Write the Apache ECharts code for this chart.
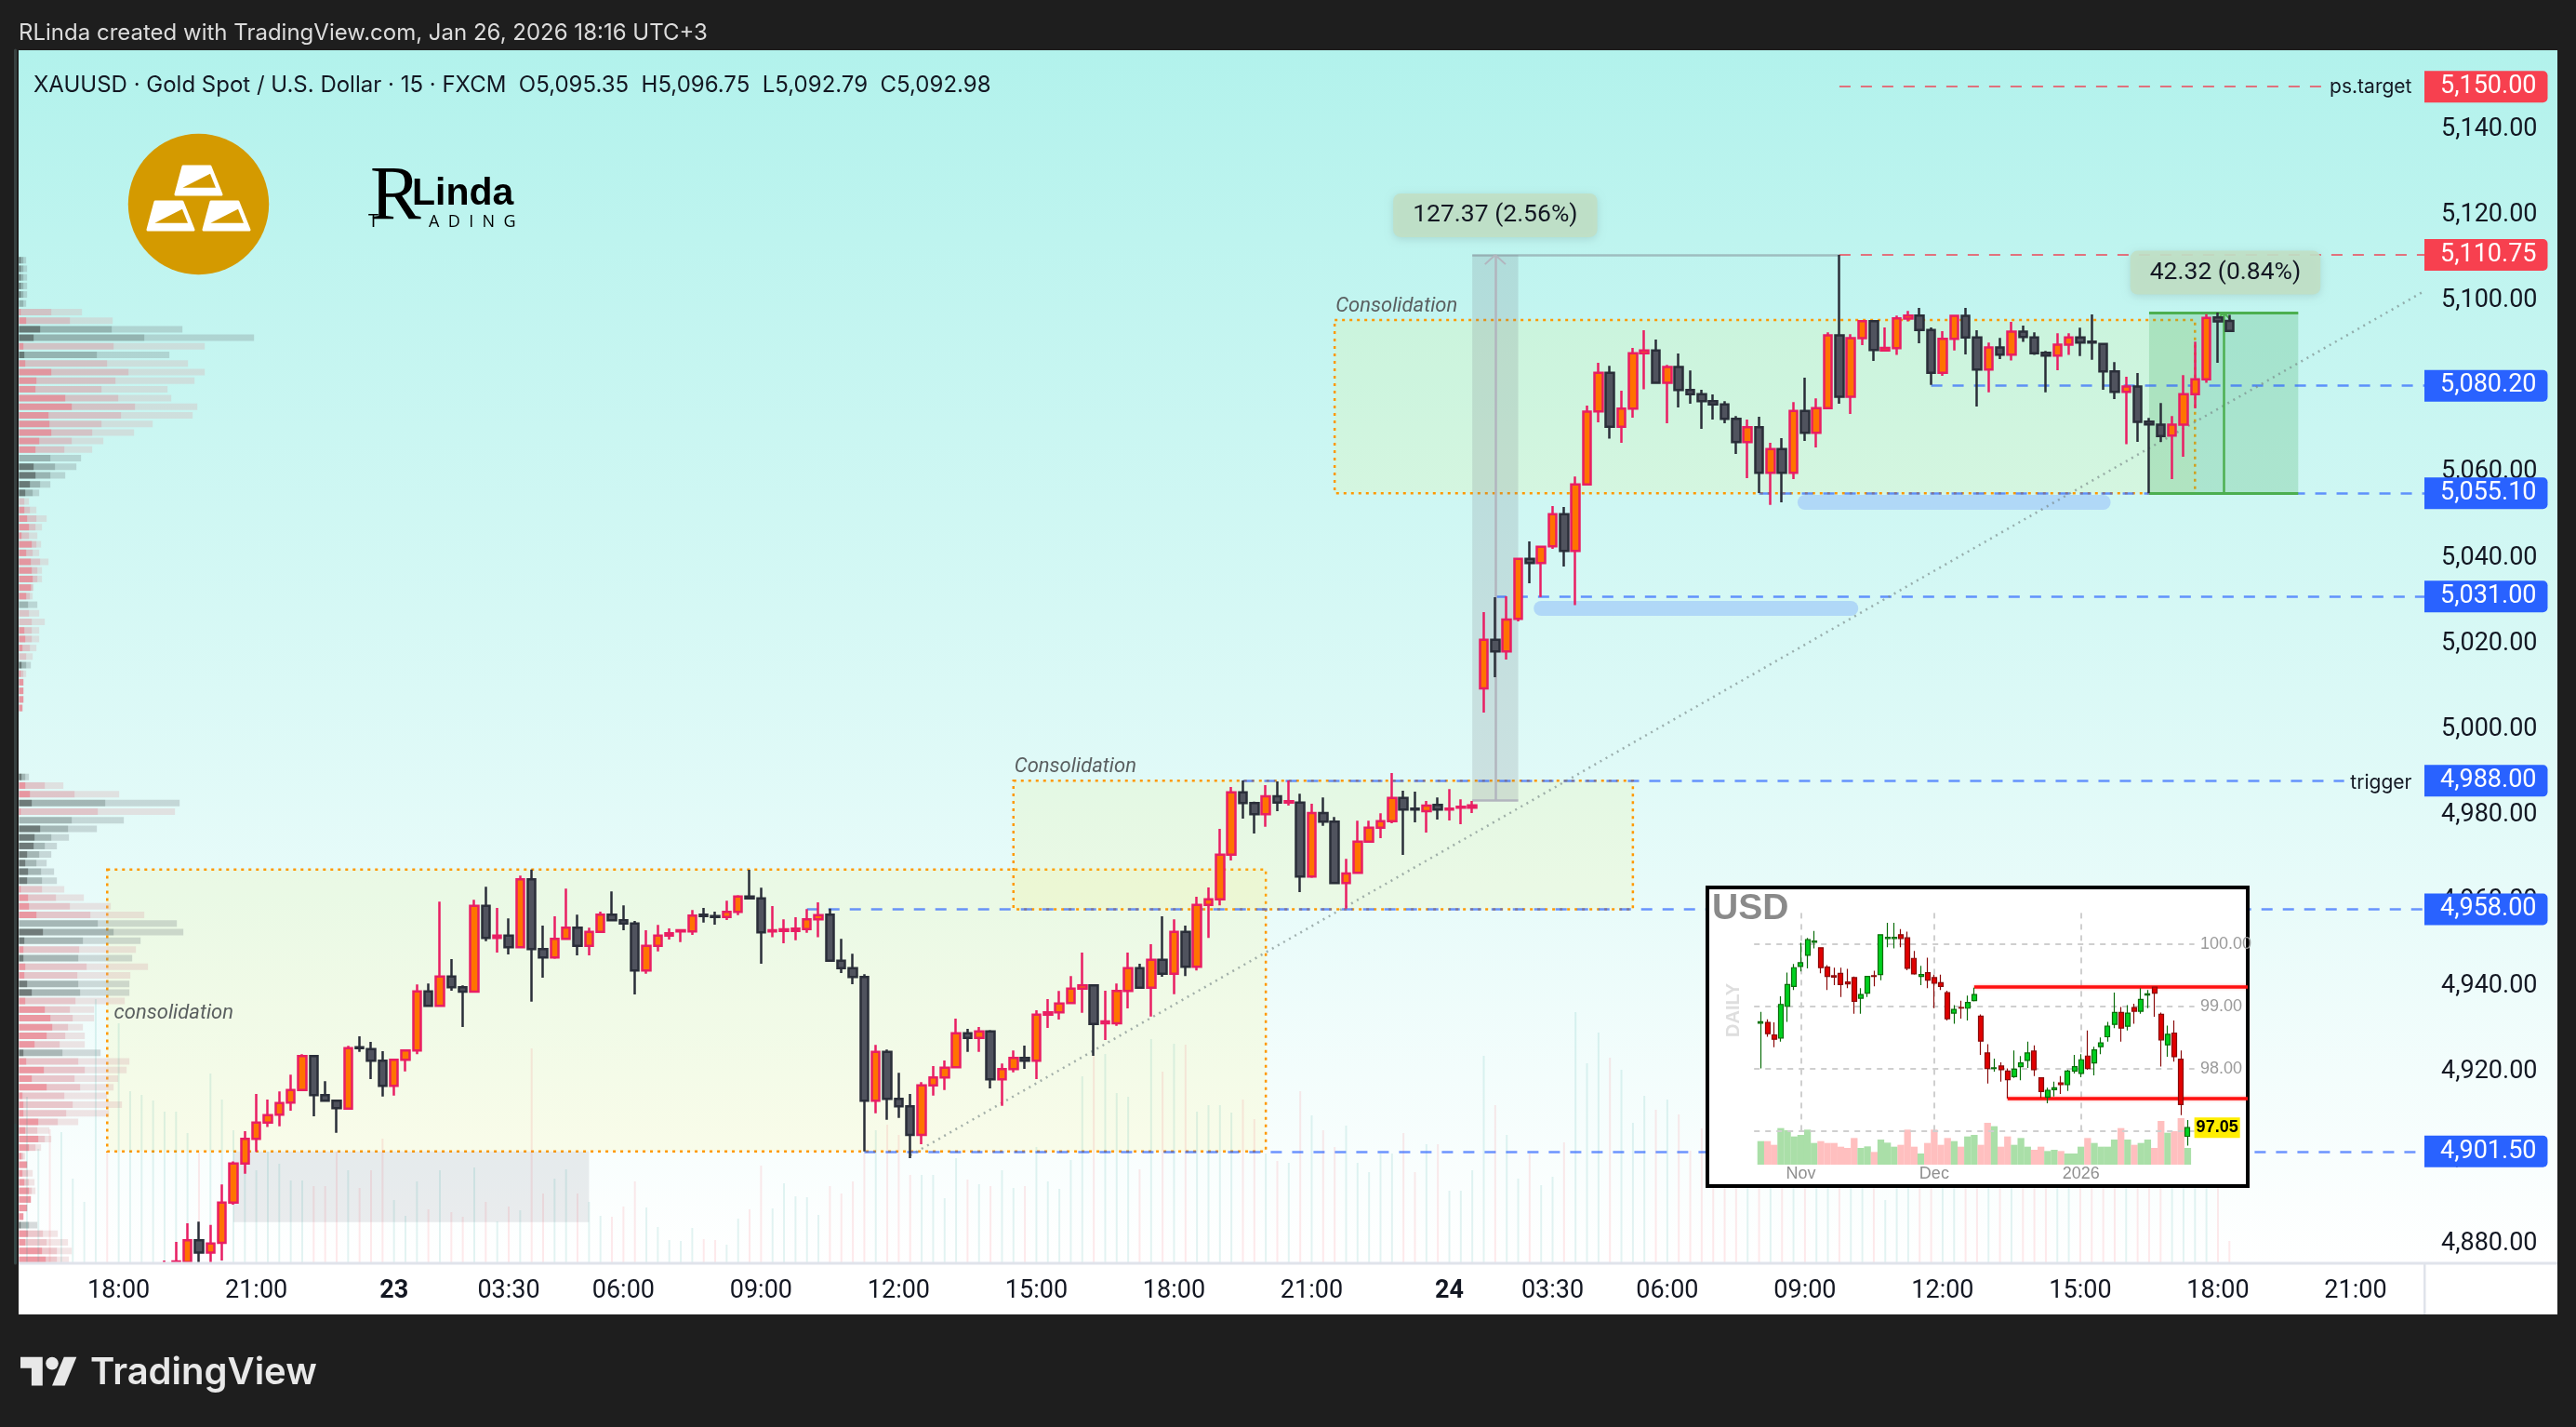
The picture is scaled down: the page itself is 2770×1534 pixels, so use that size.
<!DOCTYPE html>
<html><head><meta charset="utf-8">
<style>html,body{margin:0;padding:0;background:#1e1e1e}#c{width:2770px;height:1534px}</style>
<script src="https://cdn.jsdelivr.net/npm/echarts@6/dist/echarts.min.js"></script>
</head><body><div id="c"></div>
<script>
// ---------- DATA ----------
const firstCandleIndex = 13;
const totalBars = 211;
// [open, close, low, high]
const xauCandles = [
[4872,4874,4870,4876.05],[4872,4875.84,4870,4880.4],[4875.69,4880.76,4874.5,4884.74],[4880.76,4877.87,4874,4885.1],[4877.87,4880.04,4874,4884.38],
[4880.18,4889.59,4876.06,4893.79],[4889.59,4898.7,4889.08,4899.2],[4898.7,4904.43,4896.32,4906.23],[4904.43,4908.26,4901.39,4914.92],[4908.26,4910,4907.18,4913.62],
[4910.07,4912.82,4907.39,4915.5],[4912.89,4915.86,4911.01,4919.4],[4915.86,4923.75,4915.64,4924.18],[4923.75,4914.63,4909.71,4923.96],[4914.63,4913.33,4913.18,4917.88],
[4913.33,4911.59,4905.87,4913.33],[4911.52,4925.63,4911.52,4926.14],[4925.85,4925.63,4924.76,4928.38],[4925.41,4922.66,4918.39,4927.08],[4922.66,4916.8,4914.34,4924.9],
[4916.8,4922.88,4914.56,4922.95],[4922.88,4925.05,4920.2,4925.27],[4925.05,4938.87,4924.18,4940.46],[4938.87,4935.47,4935.4,4940.68],[4935.47,4942.35,4935.4,4959.79],
[4942.35,4939.81,4939.02,4946.4],[4939.81,4938.8,4930.55,4940.25],[4938.8,4958.85,4938.8,4960.22],[4958.85,4951.32,4950.6,4963.26],[4951.32,4951.9,4947.92,4958.34],
[4951.9,4949.15,4947.48,4955.88],[4949.15,4965,4949.15,4965.87],[4965,4948.72,4936.48,4967.31],[4948.72,4946.76,4942.06,4954.21],[4946.76,4951.1,4946.47,4956.39],
[4951.1,4953.71,4951.1,4962.83],[4953.71,4949.51,4947.27,4956.75],[4949.51,4952.77,4947.27,4953.71],[4952.77,4956.75,4952.55,4957.47],[4956.75,4955.45,4955.3,4962.18],
[4955.45,4954.72,4953.13,4958.92],[4954.72,4943.72,4938.15,4955.3],[4943.72,4949.51,4943,4953.13],[4949.51,4951.9,4948.21,4954.36],[4951.9,4952.41,4950.96,4953.56],
[4952.84,4953.13,4950.38,4953.42],[4952.84,4956.53,4952.04,4957.83],[4956.75,4956.46,4954.94,4958.34],[4956.46,4956.24,4954.43,4957.47],[4956.24,4957.4,4955.52,4960],
[4957.4,4961.02,4956.68,4961.31],[4961.02,4960.58,4960.37,4967.24],[4960.58,4952.62,4945.31,4963.04],[4952.84,4953.13,4951.47,4958.77],[4952.98,4953.35,4950.09,4955.66],
[4952.98,4953.49,4950.81,4956.17],[4953.42,4955.66,4952.55,4958.05],[4955.66,4956.68,4951.47,4959.64],[4956.75,4946.03,4946.03,4958.19],[4946.03,4944.3,4943.14,4951.1],
[4944.3,4942.2,4940.53,4947.63],[4942.2,4913.32,4901.53,4942.85],[4913.32,4924.76,4910.43,4926.35],[4924.76,4913.76,4908.91,4925.27],[4913.76,4912.02,4909.34,4919.84],
[4912.02,4905.36,4899.93,4914.92],[4905.36,4916.94,4903.19,4917.67],[4916.94,4918.75,4914.55,4921.43],[4918.75,4921.07,4915.86,4922.73],[4921.14,4929.1,4921.07,4932.5],
[4929.1,4928.01,4924.76,4930.11],[4928.01,4929.53,4924.76,4930.55],[4929.53,4918.31,4916.22,4929.82],[4918.31,4920.7,4912.17,4922],[4920.7,4923.31,4919.98,4925.05],
[4923.31,4922.66,4920.78,4926.21],[4922.66,4933.44,4918.39,4934.46],[4933.44,4933.95,4930.33,4937.06],[4933.95,4936.05,4932.29,4938.94],[4936.12,4939.52,4936.05,4942.42],
[4939.52,4940.25,4933.88,4947.92],[4940.25,4931.27,4923.82,4940.46],[4931.42,4931.85,4927.5,4939.01],[4931.42,4938.94,4930.84,4940.68],[4938.94,4944.3,4934.89,4947.92],
[4944.3,4939.74,4939.52,4945.31],[4939.74,4946.25,4933.01,4949.87],[4946.25,4942.99,4942.27,4956.38],[4942.99,4952.77,4938.22,4955.66],[4952.77,4944.59,4942.42,4954.21],
[4944.59,4959.06,4943.72,4960.94],[4959.06,4960.36,4951.32,4963.11],[4960.36,4970.78,4958.92,4976.79],[4970.78,4985.33,4969.41,4986.56],[4985.33,4982.8,4979.18,4988.08],
[4982.8,4980.19,4975.71,4983.16],[4980.19,4984.39,4977.3,4987],[4984.39,4982.94,4980.92,4987.86],[4982.94,4983.23,4982.22,4988.08],[4982.94,4965.65,4962.03,4984.97],
[4965.65,4980.48,4965.36,4982.65],[4980.48,4978.46,4977.51,4984.1],[4978.46,4964.13,4964.13,4979.54],[4964.13,4966.37,4958.19,4969.77],[4966.51,4973.82,4966.51,4978.67],
[4973.82,4977.08,4973.53,4978.67],[4977.08,4978.6,4974.62,4980.41],[4978.6,4984.03,4978.09,4989.82],[4984.03,4981.28,4970.71,4985.69],[4981.49,4981.28,4978.31,4985.47],
[4980.92,4982.22,4975.92,4983.3],[4982.36,4981.28,4978.96,4984.1],[4981.28,4981.49,4978.75,4986.05],[4981.71,4981.93,4977.88,4983.67],[4981.71,4982.29,4980.48,4983.3],
[5009.58,5020.94,5003.93,5027.38],[5020.94,5018.19,5012.18,5030.85],[5018.19,5025.64,5016.31,5031.07],[5025.79,5039.83,5025.21,5040],[5039.83,5038.82,5034.11,5043.88],
[5038.82,5042.65,5030.93,5042.65],[5042.72,5050.25,5042.14,5052.13],[5050.25,5041.64,5038.02,5051.91],[5041.64,5057.2,5028.98,5059.01],[5057.2,5074.15,5056.98,5075.58],
[5074.21,5083.25,5071.67,5085.57],[5083.25,5070.66,5067.84,5084.85],[5070.66,5074.86,5066.9,5079.06],[5074.86,5087.81,5072.76,5089.04],[5087.81,5088.46,5079.35,5093.17],
[5088.46,5080.87,5080.65,5091],[5080.87,5084.56,5071.46,5085.06],[5084.56,5079.2,5075.15,5087.74],[5079.2,5078.26,5076.02,5083.76],[5078.26,5076.6,5070.15,5079.27],
[5076.6,5075.87,5072.33,5078.19],[5075.87,5072.47,5071.46,5076.6],[5072.47,5067.04,5064.29,5073.12],[5067.04,5070.52,5058.65,5072.33],[5070.52,5059.88,5055.18,5072.98],
[5059.88,5065.45,5052.42,5066.9],[5065.45,5059.88,5053,5067.98],[5059.88,5074.35,5058.43,5076.38],[5074.35,5069.21,5067.33,5082.09],[5069.21,5075,5065.81,5077.25],
[5075,5091.94,5074.79,5092.66],[5091.94,5077.61,5076.02,5110.75],[5077.61,5091.29,5073.63,5092.23],[5091.29,5095.27,5089.69,5095.48],[5095.27,5088.54,5086,5095.48],
[5088.46,5089.04,5088.46,5093.82],[5088.97,5095.92,5087.38,5096.57],[5095.85,5096.57,5095.2,5097.65],[5096.57,5093.24,5090.13,5098.38],[5093.24,5083.25,5080.43,5093.82],
[5083.25,5091.14,5082.53,5092.95],[5091.14,5096.5,5088.46,5096.57],[5096.5,5091.5,5087.52,5098.38],[5091.5,5083.98,5075.36,5093.17],[5083.98,5089.12,5078.69,5090.27],
[5089.12,5087.45,5086.44,5091.36],[5087.45,5092.81,5086.08,5095.12],[5092.81,5091.58,5090.42,5094.25],[5091.5,5087.81,5087.38,5092.66],[5087.89,5087.23,5078.69,5088.32],
[5087.23,5089.77,5083.83,5092.44],[5089.77,5091.5,5087.38,5092.44],[5091.5,5090.27,5087.16,5093.75],[5090.49,5090.27,5086.29,5096.86],[5089.98,5083.54,5079.27,5090.06],
[5083.54,5078.77,5077.1,5085.71],[5078.77,5080,5066.54,5082.31],[5080,5071.75,5067.12,5083.18],[5071.82,5071.17,5055.18,5072.69],[5071.1,5068.49,5067.12,5076.16],
[5068.56,5071.1,5058.43,5073.12],[5071.1,5078.26,5063.64,5082.67],[5078.26,5081.73,5074.93,5090.49],[5081.73,5096.06,5080.87,5096.93],[5096.14,5095.2,5085.57,5097.29],
[5095.35,5092.98,5092.79,5096.75]
];
const volumes = [150,179,123,144,141,91,66,284,119,258,185,181,175,163,163,140,119,204,176,143,118,100,120,107,89,89,83,83,120,100,81,100,134,68,51,88,58,100,55,50,103,66,45,61,57,231,75,91,101,75,66,51,50,61,88,60,39,25,24,38,26,25,20,48,58,105,59,86,72,71,52,83,75,88,118,143,149,138,95,95,95,70,113,90,85,83,100,81,83,125,88,80,111,201,223,225,183,179,101,241,206,236,235,163,170,170,162,176,155,118,110,108,185,159,143,125,148,108,98,118,118,140,98,128,128,78,78,100,223,170,138,91,118,84,93,130,270,215,248,221,208,151,180,165,176,160,121,145,118,96,132,120,104,150,110,92,125,140,98,115,88,130,107,68,112,95,128,90,105,121,99,135,110,160,170,145,120,158,185,150,130,108,142,118,125,100,96,115,104,128,112,120,95,24];
const earlyVolumeUp = [1,1,1,0,1,1,1,1,0,1,1,1,1];
const timeTickIndex = [9,21,33,43,53,65,77,89,101,113,125,134,144,156,168,180,192,204];
const timeTickLabels = ['18:00','21:00','23','03:30','06:00','09:00','12:00','15:00','18:00','21:00','24','03:30','06:00','09:00','12:00','15:00','18:00','21:00'];
const priceTicks = [5140,5120,5100,5080,5060,5040,5020,5000,4980,4960,4940,4920,4900,4880];
const priceMin = 4875.4, priceMax = 5158.51;
// volume profile: [price, outer, mid, inner, kind] kind 1 = grey, 0 = pink
const profileRows = [
[5109.5,23,14,5,1],[5107.5,26,14,5,1],[5105.5,26,14,5,1],[5103.5,26,14,5,1],[5101.5,26,14,5,1],[5099.4,23,14,0,1],[5097.4,203,104,5,0],[5095.4,302,164,23,0],[5093.4,527,299,68,1],[5091.4,758,404,47,1],
[5089.4,599,305,14,0],[5087.4,485,251,17,1],[5085.4,545,284,20,0],[5083.4,599,353,104,0],[5081.4,566,311,56,0],[5079.4,479,266,53,0],[5077.3,491,320,149,0],[5075.3,575,374,170,0],[5073.3,560,329,95,0],[5071.3,431,266,98,0],
[5069.3,371,236,104,0],[5067.3,272,170,65,0],[5065.3,236,146,53,0],[5063.3,200,101,0,1],[5061.3,185,116,47,1],[5059.3,149,101,53,1],[5057.2,101,68,35,1],[5055.2,65,44,20,1],[5053.2,32,17,0,0],[5051.2,56,35,17,0],
[5049.2,89,56,26,0],[5047.2,74,53,32,0],[5045.2,59,32,8,0],[5043.2,71,56,41,0],[5041.2,65,44,23,0],[5039.1,95,68,38,0],[5037.1,74,59,41,0],[5035.1,74,59,44,0],[5033.1,47,44,38,0],[5031.1,44,35,23,0],
[5029.1,59,29,0,1],[5027.1,65,32,0,0],[5025.1,83,41,0,0],[5023.1,65,41,17,0],[5021.1,65,41,20,0],[5019,56,35,11,0],[5017,44,23,0,0],[5015,38,23,8,1],[5013,23,14,5,0],[5011,14,14,14,0],
[5009,14,14,14,0],[5007,14,14,14,0],[5005,11,11,11,0],
[4988.9,32,20,8,1],[4986.9,143,83,20,0],[4984.9,323,179,35,0],[4982.8,518,278,41,1],[4980.8,503,254,5,0],[4978.8,338,170,0,1],[4976.8,251,158,68,1],[4974.8,161,104,50,1],[4972.8,122,83,47,1],[4970.8,104,65,26,1],
[4968.8,89,56,20,1],[4966.8,113,71,29,1],[4964.7,122,74,26,1],[4962.7,146,74,5,0],[4960.7,209,119,29,0],[4958.7,296,164,32,0],[4956.7,404,230,56,0],[4954.7,509,254,0,1],[4952.7,530,305,77,1],[4950.7,392,206,17,1],
[4948.6,377,194,14,0],[4946.6,365,191,14,1],[4944.6,416,218,20,0],[4942.6,359,188,17,0],[4940.6,356,191,26,1],[4938.6,356,197,41,1],[4936.6,341,182,20,0],[4934.6,242,164,83,0],[4932.6,242,173,101,0],[4930.5,206,158,107,0],
[4928.5,212,149,89,0],[4926.5,212,131,50,0],[4924.5,263,140,14,1],[4922.5,356,191,23,0],[4920.5,347,212,80,0],[4918.5,320,179,41,0],[4916.5,305,197,89,0],[4914.5,284,146,11,0],[4912.4,332,173,14,0],[4910.4,290,152,14,0],
[4908.4,191,125,62,0],[4906.4,98,59,20,0],[4904.4,104,83,62,0],[4902.4,71,53,32,0],[4900.4,20,14,8,0],[4898.4,26,26,26,0],[4896.4,44,29,11,0],[4894.3,50,32,17,0],[4892.3,53,41,32,0],[4890.3,38,38,38,0],
[4888.3,26,26,26,0],[4886.3,14,14,14,0],[4884.3,59,32,5,1],[4882.3,125,77,29,0],[4880.3,158,89,20,0],[4878.3,170,122,74,0],[4876.2,161,122,86,0]
];
// levels
const tagLevels = [[5150,'5,150.00','#f7404f'],[5110.75,'5,110.75','#f7404f'],[5080.2,'5,080.20','#2962ff'],[5055.1,'5,055.10','#2962ff'],[5031,'5,031.00','#2962ff'],[4988,'4,988.00','#2962ff'],[4958,'4,958.00','#2962ff'],[4901.5,'4,901.50','#2962ff']];
const redDashes = [[5150,159,201],[5110.75,159,210]];
const blueDashes = [[5080.2,167,210],[5055.1,152,210],[5031,129,210],[4988,107,203],[4958,69,210],[4901.5,74,210]];
const consolidationBoxes = [[8,109,4967.3,4901.5],[87,141,4988,4958],[115,190,5095.56,5055.1]];
const annotationTexts = [['consolidation',9,4933.8,-5],['Consolidation',87,4991.3,1],['Consolidation',115,5098.8,1]];
const levelTexts = [['ps.target',208.9,5150],['trigger',208.9,4987.6]];
const bluePills = [[133,160,5028.25],[156,182,5053]];
const measureLabels = [['127.37 (2.56%)',129,5120],['42.32 (0.84%)',192.65,5106.6]];
const trendLine = [78,4900.6,210,5102.3];
const priceBand = [127,131,129,5110.75,4983.4];
const positionBox = [186,199,192.5,5097.29,5055.05];
const greyZone = [19,50,4901.5,4885];

// Inset USD daily
const usdPad = 8, usdTotal = 82;
const usdCandles = [
[98.73,98.75,98,98.91],[98.74,98.56,98.51,98.79],[98.54,98.47,98.34,98.74],[98.49,99.03,98.43,99.16],[99,99.35,98.75,99.54],[99.32,99.62,99.26,99.68],[99.64,99.7,99.56,100.02],[99.82,100.07,99.61,100.1],[100.03,100.05,99.93,100.21],[99.94,99.62,99.53,99.95],
[99.63,99.48,99.26,99.66],[99.49,99.47,99.34,99.62],[99.53,99.35,99.15,99.62],[99.39,99.36,99.29,99.6],[99.46,99.08,98.88,99.48],[99.13,99.19,98.88,99.29],[99.21,99.48,99.15,99.49],[99.49,99.48,99.32,99.57],[99.51,100.15,99.42,100.16],[100.09,100.11,99.95,100.34],
[100.09,100.11,99.93,100.34],[100.15,100.09,99.95,100.24],[100.1,99.61,99.58,100.2],[99.77,99.52,99.51,99.89],[99.48,99.51,99.34,99.65],[99.54,99.42,99.29,99.78],[99.46,99.37,98.97,99.51],[99.38,99.32,99.26,99.51],[99.22,98.8,98.77,99.25],[98.89,98.95,98.72,99.02],
[98.98,98.97,98.8,99.09],[98.97,99.06,98.77,99.17],[99.09,99.19,99.08,99.3],[98.84,98.44,98.22,98.87],[98.25,98,97.76,98.39],[98,98.01,97.95,98.16],[98.04,97.98,97.79,98.1],[97.96,97.82,97.52,98],[97.87,97.99,97.85,98.29],[98.03,98.09,97.81,98.2],
[98.13,98.25,98.01,98.43],[98.28,97.98,97.88,98.37],[97.85,97.63,97.53,97.86],[97.54,97.65,97.44,97.69],[97.66,97.69,97.55,97.79],[97.77,97.74,97.59,97.88],[97.74,97.96,97.64,97.98],[97.96,98.03,97.92,98.22],[97.92,98.14,97.86,98.23],[98.2,98,97.98,98.61],
[98.09,98.3,97.89,98.35],[98.35,98.41,98.23,98.5],[98.51,98.68,98.43,98.75],[98.71,98.9,98.65,99.22],[98.9,98.65,98.43,98.99],[98.68,98.89,98.61,99.02],[98.98,98.92,98.72,99.04],[98.92,99.11,98.88,99.29],[99.18,99.2,98.97,99.26],[99.31,99.21,98.83,99.31],
[98.87,98.46,98.03,98.9],[98.38,98.55,98.19,98.69],[98.57,98.19,98.11,98.77],[98.15,97.42,97.25,98.29],[96.91,97.05,96.76,97.17]
];
const usdVolumes = [76,76,64,118,111,91,96,113,70,76,70,70,58,54,86,54,59,41,81,71,58,64,113,58,36,70,113,64,86,76,58,91,96,64,135,124,58,91,64,86,58,48,58,44,48,44,36,36,58,86,70,58,58,81,118,81,64,70,81,54,141,103,108,156,54];
const usdTickIndex = [14,34,56];
const usdTickLabels = ['Nov','Dec','2026'];
const usdTicks = [98,99,100];
const usdGridLevels = [97,98,99,100];
const usdRange = [7,73];
const usdRedLines = [[99.31,40],[97.52,45]];
const usdLast = [73,97.05];

// ---------- BUILD ----------
const FONT = 'Inter';
const AXISFONT = 'Roboto';
const AXISSIZE = 27;
const ink = '#131722';
const categories = Array.from({length: totalBars}, (_, i) => String(i));
const blank = ['-','-','-','-'];
const candleData = Array(firstCandleIndex).fill(blank).concat(xauCandles);
const isUp = i => {
  if (i < firstCandleIndex) return !!earlyVolumeUp[i];
  const c = xauCandles[i - firstCandleIndex];
  return c ? c[1] >= c[0] : true;
};
const volumeData = volumes.map((v, i) => ({
  value: v,
  itemStyle: {color: isUp(i) ? 'rgba(0,150,136,0.11)' : 'rgba(242,54,69,0.11)'}
}));
const seg = (x1, y1, x2, y2, style, label) => [
  {coord: [x1, y1], lineStyle: style, label: label || {show: false}},
  {coord: [x2, y2]}
];
const lineData = [];
redDashes.forEach(d => lineData.push(seg(d[1], d[0], d[2], d[0], {color: 'rgba(232,90,105,0.85)', width: 2, type: [12, 11]})));
blueDashes.forEach(d => lineData.push(seg(d[1], d[0], d[2], d[0], {color: 'rgba(41,98,255,0.68)', width: 2.5, type: [12, 11]})));
lineData.push(seg(trendLine[0], trendLine[1], trendLine[2], trendLine[3], {color: 'rgba(120,135,135,0.65)', width: 2.5, type: [2, 5]}));
const bandGray = 'rgba(120,123,134,0.45)';
lineData.push(seg(priceBand[0], priceBand[3], 159, priceBand[3], {color: bandGray, width: 2.5, type: 'solid'}));
lineData.push(seg(priceBand[2], priceBand[3], priceBand[2], priceBand[4], {color: '#b2b5be', width: 2.5, type: 'solid'}));
lineData.push(seg(priceBand[0], priceBand[4], priceBand[1], priceBand[4], {color: '#b2b5be', width: 2.5, type: 'solid'}));
lineData.push(seg(priceBand[2], priceBand[3], priceBand[2]-0.9, priceBand[3]-2.2, {color: '#b2b5be', width: 2, type: 'solid'}));
lineData.push(seg(priceBand[2], priceBand[3], priceBand[2]+0.9, priceBand[3]-2.2, {color: '#b2b5be', width: 2, type: 'solid'}));
const green = '#4caf50';
lineData.push(seg(positionBox[0], positionBox[3], positionBox[1], positionBox[3], {color: green, width: 3, type: 'solid'}));
lineData.push(seg(positionBox[0], positionBox[4], positionBox[1], positionBox[4], {color: green, width: 3, type: 'solid'}));
lineData.push(seg(positionBox[2], positionBox[3], positionBox[2], positionBox[4], {color: green, width: 2.5, type: 'solid'}));
lineData.push(seg(positionBox[2], positionBox[3], positionBox[2]-0.7, positionBox[3]-2, {color: green, width: 2, type: 'solid'}));
lineData.push(seg(positionBox[2], positionBox[3], positionBox[2]+0.7, positionBox[3]-2, {color: green, width: 2, type: 'solid'}));

const areaData = consolidationBoxes.map(b => [
  {coord: [b[0], b[2]], itemStyle: {color: 'rgba(255,238,88,0.12)', borderColor: '#ff9800', borderWidth: 2.5, borderType: [3, 5]}},
  {coord: [b[1], b[3]]}
]);
areaData.push([{coord: [priceBand[0], priceBand[3]], itemStyle: {color: 'rgba(120,123,134,0.2)', borderWidth: 0}}, {coord: [priceBand[1], priceBand[4]]}]);
areaData.push([{coord: [positionBox[0], positionBox[3]], itemStyle: {color: 'rgba(81,180,112,0.27)', borderWidth: 0}}, {coord: [positionBox[1], positionBox[4]]}]);
areaData.push([{coord: [greyZone[0], greyZone[2]], itemStyle: {color: 'rgba(120,123,134,0.14)', borderWidth: 0}}, {coord: [greyZone[1], greyZone[3]]}]);

const pointData = [];
annotationTexts.forEach(t => pointData.push({coord: [t[1], t[2]], label: {
  show: true, position: 'right', distance: 0, offset: [t[3], 0], formatter: t[0], color: '#5a5f60',
  fontFamily: 'Roboto', fontStyle: 'italic', fontSize: 22
}}));
levelTexts.forEach(t => pointData.push({coord: [t[1], t[2]], label: {
  show: true, position: 'left', distance: 0, formatter: t[0], color: ink, fontFamily: FONT, fontSize: 21
}}));
measureLabels.forEach(t => pointData.push({coord: [t[1], t[2]], label: {
  show: true, position: 'inside', formatter: t[0], color: ink, fontFamily: AXISFONT, fontSize: 26.5,
  backgroundColor: 'rgba(192,224,198,0.92)', padding: [10, 21], borderRadius: 8,
  shadowBlur: 8, shadowColor: 'rgba(0,0,0,0.12)', shadowOffsetY: 2
}}));
tagLevels.forEach(t => pointData.push({coord: [210, t[0]], label: {
  show: true, position: 'right', distance: 0, formatter: t[1], color: '#fff', fontFamily: AXISFONT, fontSize: AXISSIZE,
  backgroundColor: t[2], padding: [4, 12, 4, 17], borderRadius: [0, 5, 5, 0], lineHeight: 26
}}));

const pillSeries = bluePills.map(p => ({
  type: 'line', xAxisIndex: 0, yAxisIndex: 0, z: 1, silent: true, animation: false, symbol: 'none',
  data: [[p[0], p[2]], [p[1], p[2]]],
  lineStyle: {color: '#b0d8f7', width: 16, cap: 'round'}
}));

const usdBlank = Array(usdPad).fill(blank);
const usdCandleData = usdBlank.concat(usdCandles);
const usdVolumeData = Array(usdPad).fill('-').concat(usdVolumes.map((v, k) => ({
  value: v, itemStyle: {color: usdCandles[k][1] >= usdCandles[k][0] ? '#aadfa8' : '#ffbfbf'}
})));
const usdCats = Array.from({length: usdTotal}, (_, i) => String(i));
const dashGray = {color: '#cfcfcf', width: 2, type: [6, 6]};
const usdLines = [];
usdGridLevels.forEach(v => usdLines.push(seg(usdRange[0], v, usdRange[1], v, dashGray)));
usdTickIndex.forEach(i => usdLines.push(seg(i, 100.5, i, 96.98, dashGray)));
usdRedLines.forEach(r => usdLines.push(seg(r[1], r[0], usdTotal - 1, r[0], {color: '#ff1010', width: 3.5, type: 'solid', shadowBlur: 3, shadowColor: 'rgba(255,0,0,.4)'})));

const profileColors = [
  ['rgba(217,168,173,0.3)', 'rgba(222,132,147,0.3)', 'rgba(240,105,122,0.5)'],
  ['rgba(125,135,140,0.3)', 'rgba(87,105,103,0.3)', 'rgba(58,64,62,0.5)']
];
function renderProfile(params, api) {
  const price = api.value(0), kind = api.value(4);
  const h = 7;
  const children = [1, 2, 3].map((d, n) => {
    const a = api.coord([0, price]), b = api.coord([api.value(d), price]);
    return {type: 'rect', shape: {x: a[0], y: a[1] - h / 2, width: b[0] - a[0], height: h}, style: {fill: profileColors[kind][n]}};
  });
  return {type: 'group', children};
}

const insetL = 1836, insetR = 2417, insetT = 954, insetB = 1275;
const option = {
  animation: false,
  backgroundColor: '#1e1e1e',
  textStyle: {fontFamily: FONT},
  grid: [
    {left: 16.6, right: 163, top: 54, bottom: 176},
    {left: 20.5, width: 300, top: 54, bottom: 176},
    {left: insetL, width: insetR - insetL, top: insetT, height: insetB - insetT, show: true, backgroundColor: '#fff', borderColor: '#000', borderWidth: 4, z: 5},
    {left: insetL, width: insetR - insetL, top: 1202, height: 50, z: 6}
  ],
  xAxis: [
    {type: 'category', gridIndex: 0, data: categories, boundaryGap: false, z: 5,
     axisLine: {show: false}, axisTick: {show: false}, splitLine: {show: false},
     axisLabel: {
       margin: 17, fontFamily: AXISFONT, fontSize: AXISSIZE, color: ink, hideOverlap: false,
       interval: i => timeTickIndex.includes(i),
       formatter: (v, i) => {
         const k = timeTickIndex.indexOf(i);
         if (k < 0) return '';
         const s = timeTickLabels[k];
         return s.length === 2 ? '{b|' + s + '}' : s;
       },
       rich: {b: {fontWeight: 'bold', fontSize: AXISSIZE, color: ink, fontFamily: AXISFONT}}
     }},
    {type: 'value', gridIndex: 1, min: 0, max: 900, show: false},
    {type: 'category', gridIndex: 2, data: usdCats, boundaryGap: false, z: 8,
     axisLine: {show: false}, axisTick: {show: false}, splitLine: {show: false},
     axisLabel: {inside: true, margin: 4, color: '#8f8f8f', fontFamily: 'Liberation Sans', fontSize: 18,
       interval: i => usdTickIndex.includes(i),
       formatter: (v, i) => { const k = usdTickIndex.indexOf(i); return k < 0 ? '' : usdTickLabels[k]; }}},
    {type: 'category', gridIndex: 3, data: usdCats, boundaryGap: false, show: false},
    {type: 'value', gridIndex: 0, min: 0, max: totalBars - 1, show: false}
  ],
  yAxis: [
    {type: 'value', gridIndex: 0, position: 'right', min: priceMin, max: priceMax, scale: true,
     axisLine: {show: true, lineStyle: {color: 'rgba(120,150,150,0.3)', width: 3}}, axisTick: {show: false}, splitLine: {show: false},
     axisLabel: {margin: 18, fontFamily: AXISFONT, fontSize: AXISSIZE, color: ink, customValues: priceTicks,
       formatter: v => Number(v).toLocaleString('en-US', {minimumFractionDigits: 2, maximumFractionDigits: 2})}},
    {type: 'value', gridIndex: 0, min: 0, max: 1304, show: false},
    {type: 'value', gridIndex: 1, min: priceMin, max: priceMax, show: false},
    {type: 'value', gridIndex: 2, position: 'right', min: 96.11, max: 100.91, z: 8,
     axisLine: {show: false}, axisTick: {show: false}, splitLine: {show: false},
     axisLabel: {inside: true, align: 'left', margin: 51, color: '#9a9a9a', fontFamily: 'Liberation Sans', fontSize: 18, customValues: usdTicks,
       formatter: v => Number(v).toFixed(2)}},
    {type: 'value', gridIndex: 3, min: 0, max: 150, show: false}
  ],
  series: [
    {type: 'custom', xAxisIndex: 1, yAxisIndex: 2, z: 1, silent: true, clip: false, data: profileRows, renderItem: renderProfile, encode: {x: [1, 2, 3], y: 0}},
    {type: 'bar', xAxisIndex: 0, yAxisIndex: 1, z: 1, silent: true, barWidth: 2, data: volumeData},
    ...pillSeries,
    {type: 'candlestick', xAxisIndex: 0, yAxisIndex: 0, z: 3, barWidth: 9, data: candleData,
     itemStyle: {color: '#ff7300', color0: '#50535e', borderColor: '#e91e63', borderColor0: '#2a2e39', borderWidth: 2.5},
     markArea: {silent: true, z: 1, data: areaData}},
    {type: 'line', xAxisIndex: 4, yAxisIndex: 0, z: 2, silent: true, symbol: 'none', data: [[0, priceMin]], lineStyle: {width: 0},
     markLine: {silent: true, z: 2, symbol: ['none', 'none'], precision: 6, label: {show: false}, data: lineData},
     markPoint: {silent: true, z: 4, symbol: 'circle', symbolSize: 0, data: pointData}},
    {type: 'bar', xAxisIndex: 3, yAxisIndex: 4, z: 6, silent: true, barWidth: 7.3, data: usdVolumeData},
    {type: 'candlestick', xAxisIndex: 2, yAxisIndex: 3, z: 7, barWidth: 5.5, data: usdCandleData,
     itemStyle: {color: '#00d020', color0: '#e00000', borderColor: '#0a6d0a', borderColor0: '#8a0a0a', borderWidth: 1.2},
     markLine: {silent: true, z: 7, symbol: ['none', 'none'], label: {show: false}, data: usdLines},
     markPoint: {silent: true, z: 9, symbol: 'circle', symbolSize: 0, data: [{coord: usdLast, label: {
       show: true, position: 'right', distance: 0, formatter: usdLast[1].toFixed(2), color: '#000', fontWeight: 'bold',
       fontFamily: 'Liberation Sans', fontSize: 18, backgroundColor: '#ffee00', padding: [2, 2]
     }}]}}
  ],
  graphic: [
    {type: 'rect', z: -5, silent: true, shape: {x: 20, y: 54, width: 2730, height: 1359},
     style: {fill: new echarts.graphic.LinearGradient(0, 0, 0, 1, [{offset: 0, color: '#b2f2ec'}, {offset: 0.96, color: '#ffffff'}, {offset: 1, color: '#ffffff'}])}},
    // strip under the plot hides everything below the price scale
    {type: 'rect', z: 4, silent: true, shape: {x: 20, y: 1358, width: 2730, height: 55}, style: {fill: '#ffffff'}},
    {type: 'rect', z: 4.5, silent: true, shape: {x: 20, y: 1356.5, width: 2730, height: 3}, style: {fill: '#e0e3eb'}},
    {type: 'rect', z: 4.5, silent: true, shape: {x: 2606, y: 1358, width: 2.5, height: 55}, style: {fill: '#e0e3eb'}},
    {type: 'text', z: 10, silent: true, x: 20, y: 24, style: {text: 'RLinda created with TradingView.com, Jan 26, 2026 18:16 UTC+3', fill: '#dcdcdc', font: '24px ' + FONT}},
    {type: 'text', z: 10, silent: true, x: 36, y: 80, style: {text: 'XAUUSD · Gold Spot / U.S. Dollar · 15 · FXCM  O5,095.35  H5,096.75  L5,092.79  C5,092.98', fill: ink, font: '24px ' + FONT}},
    // gold logo
    {type: 'circle', z: 10, silent: true, shape: {cx: 213.5, cy: 219.5, r: 75.7}, style: {fill: '#d49a00'}},
    ...[[189, 179], [159, 217], [219, 217]].flatMap(o => [
      {type: 'polygon', z: 11, silent: true, shape: {points: [[o[0] + 8, o[1]], [o[0] + 37, o[1]], [o[0] + 49, o[1] + 30], [o[0], o[1] + 30]]}, style: {fill: '#fff', stroke: '#fff', lineWidth: 3, lineJoin: 'round'}},
      {type: 'polygon', z: 12, silent: true, shape: {points: [[o[0] + 7.4, o[1] + 22.7], [o[0] + 37, o[1] + 7.7], [o[0] + 43, o[1] + 22.7]]}, style: {fill: '#d49a00'}}
    ]),
    // RLinda logo
    {type: 'text', z: 10, silent: true, x: 398, y: 172, style: {text: 'R', fill: '#000', font: '82px "Liberation Serif"'}},
    {type: 'text', z: 10, silent: true, x: 443, y: 188, style: {text: 'Linda', fill: '#000', font: 'bold 41px "Liberation Sans Narrow","Liberation Sans"'}},
    {type: 'text', z: 11, silent: true, x: 396, y: 228, style: {text: 'T', fill: '#000', font: '20px "Open Sans"'}},
    {type: 'text', z: 10, silent: true, x: 461, y: 230, style: {text: 'A  D  I  N  G', fill: '#000', font: '18px "Open Sans"'}},
    // inset texts
    {type: 'text', z: 20, silent: true, x: 1841, y: 958, style: {text: 'USD', fill: '#8a8a8a', font: 'bold 39px "Liberation Sans"'}},
    {type: 'text', z: 20, silent: true, x: 1854, y: 1115, rotation: Math.PI / 2, style: {text: 'DAILY', fill: '#dedede', font: 'bold 20px "Liberation Sans"'}},
    // TradingView footer
    {type: 'polygon', z: 10, silent: true, shape: {points: [[14,22],[7,22],[7,11],[0,11],[0,4],[14,4]].map(p => [22 + p[0] * 1.7, 1452 + p[1] * 1.7])}, style: {fill: '#e8e8e8'}},
    {type: 'polygon', z: 10, silent: true, shape: {points: [[28,22],[20,22],[27.5,4],[35.5,4]].map(p => [22 + p[0] * 1.7, 1452 + p[1] * 1.7])}, style: {fill: '#e8e8e8'}},
    {type: 'circle', z: 10, silent: true, shape: {cx: 22 + 20 * 1.7, cy: 1452 + 8 * 1.7, r: 4 * 1.7}, style: {fill: '#e8e8e8'}},
    {type: 'text', z: 10, silent: true, x: 97, y: 1456, style: {text: 'TradingView', fill: '#e8e8e8', font: '600 40px ' + FONT}}
  ]
};
const chart = echarts.init(document.getElementById('c'), null, {renderer: 'canvas'});
chart.setOption(option);
</script></body></html>
